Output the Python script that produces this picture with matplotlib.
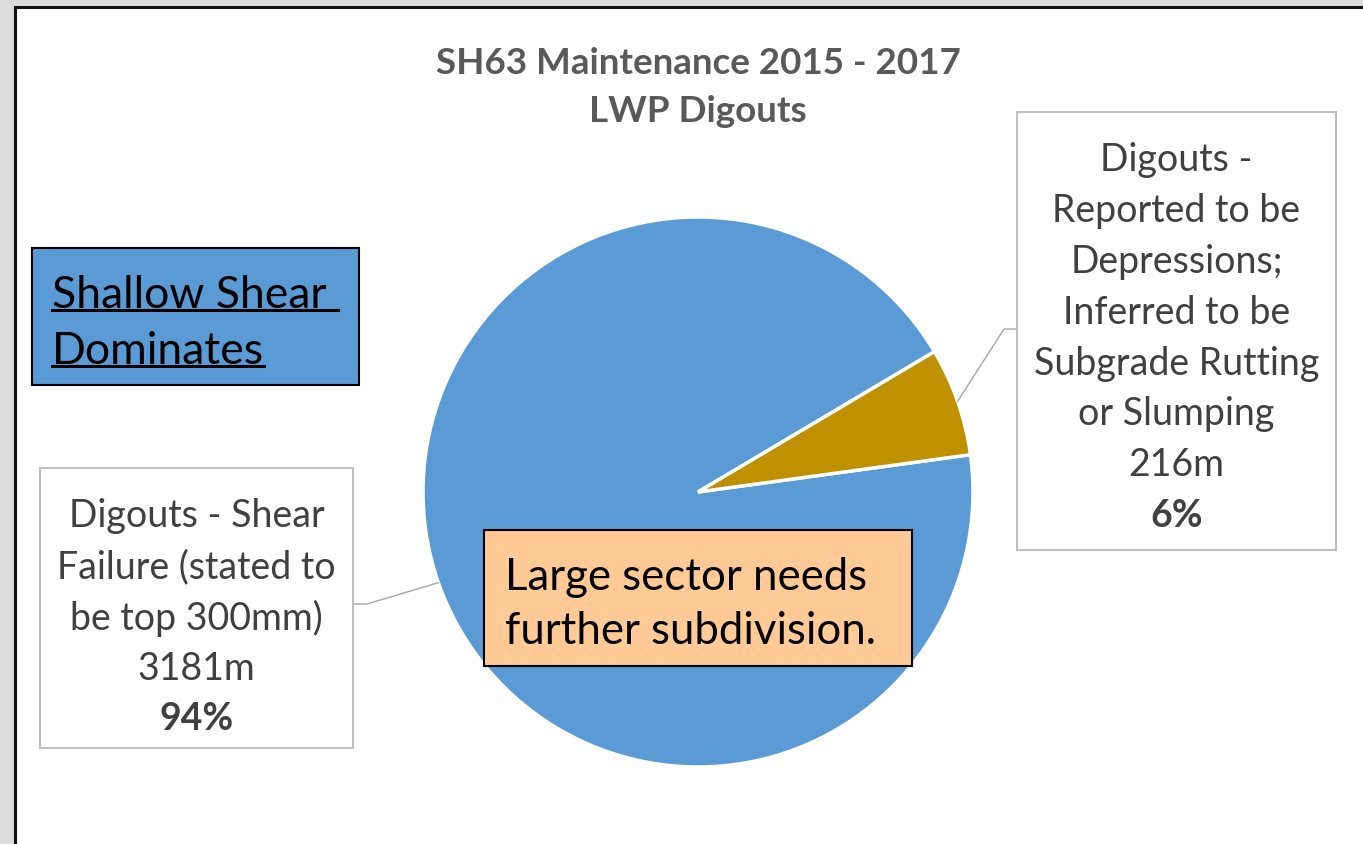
import matplotlib.pyplot as plt
import matplotlib.patches as patches
import numpy as np

# data
categories = ["Digouts - Shear\nFailure (stated to\nbe top 300mm)",
              "Digouts -\nReported to be\nDepressions;\nInferred to be\nSubgrade Rutting\nor Slumping"]
lengths_m = [3181, 216]
colors = ['#5B9BD5', '#BF9000']
title_lines = ["SH63 Maintenance 2015 - 2017", "LWP Digouts"]
note_left = ["Shallow Shear ", "Dominates"]
note_mid = ["Large sector needs", "further subdivision."]

W, H = 1363, 845
FONT = 'Lato'
label_grey = '#404040'


def Y(y):
    # pixel row (from top) -> axes y
    return H - y


fig = plt.figure(figsize=(W / 100, H / 100), dpi=100, facecolor='#DCDCDC')
ax = fig.add_axes([0, 0, 1, 1])
ax.set_facecolor('#DCDCDC')

# white chart area with dark frame on left / top
ax.add_patch(patches.Rectangle((15, -20), W + 40, Y(8) + 20, facecolor='white',
                               edgecolor='#111111', linewidth=2.2, zorder=0))

cx, cy, r = 698, Y(493), 275
wedges, _ = ax.pie(lengths_m, colors=colors, startangle=7.8, counterclock=False,
                   radius=r, center=(cx, cy),
                   wedgeprops=dict(edgecolor='white', linewidth=2.5))
ax.set_xlim(0, W)
ax.set_ylim(0, H)
ax.set_aspect('equal')
ax.axis('off')

for i, line in enumerate(title_lines):
    ax.text(698, Y(60 + i * 48), line, ha='center', va='center_baseline', fontsize=26.5,
            fontweight='bold', color='#595959', family=FONT)

total = sum(lengths_m)
# label boxes: (left, top, right, bottom) in pixels
boxes = [(40, 469, 353, 749), (1017, 113, 1336, 551)]
elbows = [(367, 605, 353), (1004, 330, 1017)]
for k, (w, cat, val) in enumerate(zip(wedges, categories, lengths_m)):
    x0, y0, x1, y1 = boxes[k]
    ax.add_patch(patches.Rectangle((x0, Y(y1)), x1 - x0, y1 - y0, facecolor='white',
                                   edgecolor='#BFBFBF', linewidth=1.5, zorder=3))
    lines = cat.split('\n') + [f"{val}m"]
    tx = (x0 + x1) / 2
    ytop = y0 + 44
    for j, line in enumerate(lines):
        ax.text(tx, Y(ytop + j * 50.8), line, ha='center', va='center_baseline',
                fontsize=27, color=label_grey, family=FONT, zorder=4)
    ax.text(tx, Y(ytop + len(lines) * 50.8), f"{round(100 * val / total)}%",
            ha='center', va='center_baseline', fontsize=27, fontweight='bold',
            color=label_grey, family=FONT, zorder=4)
    # leader line to wedge mid-angle on the rim
    mid = np.deg2rad((w.theta1 + w.theta2) / 2)
    px, py = cx + r * np.cos(mid), cy + r * np.sin(mid)
    ex, ey, bx = elbows[k]
    ax.plot([px, ex, bx], [py, Y(ey), Y(ey)], color='#A6A6A6', linewidth=1, zorder=2)

# "Shallow Shear Dominates" note
ax.add_patch(patches.Rectangle((32, Y(386)), 327, 137, facecolor='#5B9BD5',
                               edgecolor='black', linewidth=1.5, zorder=3))
fig.canvas.draw()
rend = fig.canvas.get_renderer()
for i, line in enumerate(note_left):
    t = ax.text(52, Y(292 + i * 56), line, ha='left', va='center_baseline', fontsize=32,
                color='black', family=FONT, zorder=4)
    bb = t.get_window_extent(rend).transformed(ax.transData.inverted())
    ax.plot([bb.x0, bb.x1], [Y(311 + i * 56)] * 2, color='black', linewidth=2.2, zorder=4)

# orange note
ax.add_patch(patches.Rectangle((484, Y(667)), 428, 136, facecolor='#FFCA95',
                               edgecolor='black', linewidth=1.5, zorder=3))
for i, line in enumerate(note_mid):
    ax.text(505, Y(574 + i * 54), line, ha='left', va='center_baseline', fontsize=31.5,
            color='black', family=FONT, zorder=4)

fig.savefig('out.png', dpi=100, facecolor=fig.get_facecolor())
